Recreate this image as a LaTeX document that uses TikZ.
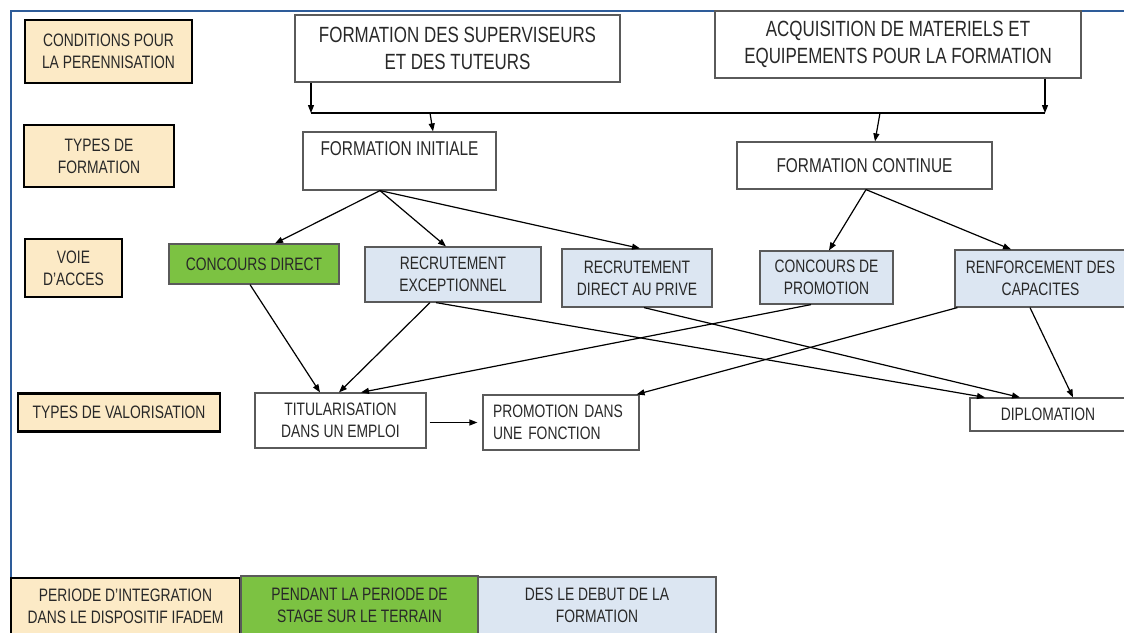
\documentclass[tikz,border=0pt]{standalone}
\usepackage{xcolor}
\usepackage{fontspec}
\setmainfont{Liberation Sans}[FakeStretch=0.77]
\usepackage{tikz}
\usetikzlibrary{positioning,arrows.meta}

\definecolor{cream}{RGB}{252,234,198}
\definecolor{leaf}{RGB}{124,194,66}
\definecolor{pale}{RGB}{220,230,242}
\definecolor{edgegray}{RGB}{90,90,90}
\definecolor{frame}{RGB}{46,92,153}
\definecolor{ink}{RGB}{40,40,40}

\begin{document}
\begin{tikzpicture}[x=1pt,y=-1pt,>={Triangle[length=8pt,width=6pt]},line width=1.2pt]
        \tikzstyle{every node}=[inner sep=0pt,align=center,text=ink,font=\fontsize{18}{22}\selectfont]
        \tikzstyle{lab}=[draw=black,line width=2.6pt,fill=cream]
        \tikzstyle{box}=[draw=edgegray,line width=1.2pt,fill=white]
        \tikzstyle{big}=[box,font=\fontsize{22}{27}\selectfont]
        \tikzstyle{blu}=[box,fill=pale]
        \tikzstyle{grn}=[box,fill=leaf]
        \useasboundingbox (0,0) rectangle (1124,632);
        \clip (0,0) rectangle (1124,632);
        \draw[frame,line width=2pt] (11,640) -- (11,11) -- (1130,11);

        % row labels
        \node[lab,minimum width=167,minimum height=63] (Lc) at (108.5,51.5) {CONDITIONS POUR\\LA PERENNISATION};
        \node[lab,minimum width=150,minimum height=62] (Lt) at (99,156) {TYPES DE\\FORMATION};
        \node[lab,minimum width=97,minimum height=58] (Lv) at (73.5,268) {VOIE\\D'ACCES};
        \node[lab,minimum width=202,minimum height=38] (Lval) at (119,412.5) {TYPES DE VALORISATION};
        \node[lab,minimum width=229,minimum height=56] (Lp) at (125.5,606) {PERIODE D'INTEGRATION\\DANS LE DISPOSITIF IFADEM};
        \node[grn,minimum width=237,minimum height=58] (Ps) at (359.5,605) {PENDANT LA PERIODE DE\\STAGE SUR LE TERRAIN};
        \node[blu,minimum width=238,minimum height=57] (Db) at (597,605.5) {DES LE DEBUT DE LA\\FORMATION};

        % conditions and types of training
        \node[big,minimum width=325,minimum height=67] (Fs) at (457.5,48.5) {FORMATION DES SUPERVISEURS\\ET DES TUTEURS};
        \node[big,minimum width=366,minimum height=67] (Am) at (898,44.5) {ACQUISITION DE MATERIELS ET\\EQUIPEMENTS POUR LA FORMATION};
        \node[box,font=\fontsize{20}{24}\selectfont,minimum width=193,minimum height=58] (Fi) at (399.5,161) {FORMATION INITIALE\\ \mbox{}};
        \node[box,font=\fontsize{20}{24}\selectfont,minimum width=255,minimum height=47] (Fc) at (864.5,165.5) {FORMATION CONTINUE};

        % access routes
        \node[grn,minimum width=170,minimum height=40] (Cd) at (254,264) {CONCOURS DIRECT};
        \node[blu,minimum width=176,minimum height=55] (Re) at (453,274.5) {RECRUTEMENT\\EXCEPTIONNEL};
        \node[blu,minimum width=150,minimum height=58] (Rp) at (637,278) {RECRUTEMENT\\DIRECT AU PRIVE};
        \node[blu,minimum width=133,minimum height=53] (Cpr) at (826.5,277.5) {CONCOURS DE\\PROMOTION};
        \node[blu,minimum width=171,minimum height=57] (Rc) at (1040.5,278.5) {RENFORCEMENT DES\\CAPACITES};

        % valorisation
        \node[box,minimum width=171,minimum height=55] (Ti) at (340.5,420.5) {TITULARISATION\\DANS UN EMPLOI};
        \node[box,align=left,text width=136,minimum width=156,minimum height=55] (Pf) at (561,422.5) {PROMOTION DANS\\UNE FONCTION};
        \node[box,minimum width=156,minimum height=33] (Di) at (1048,414.5) {DIPLOMATION};

        % bar joining the two conditions
        \coordinate (Bl) at (311,113);
        \coordinate (Br) at (1045,113);
        \coordinate (Ba) at (430,113);
        \coordinate (Bb) at (880,113);
        \draw (Bl) -- (Br);
        \path[->]
        (Fs.south -| Bl) edge (Bl)
        (Am.south -| Br) edge (Br)
        (Ba) edge ([xshift=33.5pt]Fi.north)
        (Bb) edge ([xshift=10.5pt]Fc.north);

        \path[->]
        ([xshift=-19.5pt]Fi.south) edge ([xshift=21pt]Cd.north)
        ([xshift=-19.5pt]Fi.south) edge ([xshift=-7pt]Re.north)
        ([xshift=-19.5pt]Fi.south) edge ([xshift=3pt]Rp.north)
        ([xshift=1.5pt]Fc.south) edge ([xshift=2.5pt]Cpr.north)
        ([xshift=1.5pt]Fc.south) edge ([xshift=-29.5pt]Rc.north)
        ([xshift=-4pt]Cd.south) edge ([xshift=-20.5pt]Ti.north)
        ([xshift=-23pt]Re.south) edge ([xshift=-1.5pt]Ti.north)
        ([xshift=-15.5pt]Cpr.south) edge ([xshift=20.5pt]Ti.north)
        ([xshift=-17pt]Re.south) edge ([xshift=-63pt]Di.north)
        ([xshift=7pt]Rp.south) edge ([xshift=-28pt]Di.north)
        ([xshift=-10.5pt]Rc.south) edge ([xshift=25pt]Di.north)
        ([xshift=3pt]Rc.south west) edge ([xshift=-3pt]Pf.north east);
        \draw[->,shorten <=3pt,shorten >=5pt] (Ti.east |- Pf.west) -- (Pf.west);
\end{tikzpicture}
\end{document}
